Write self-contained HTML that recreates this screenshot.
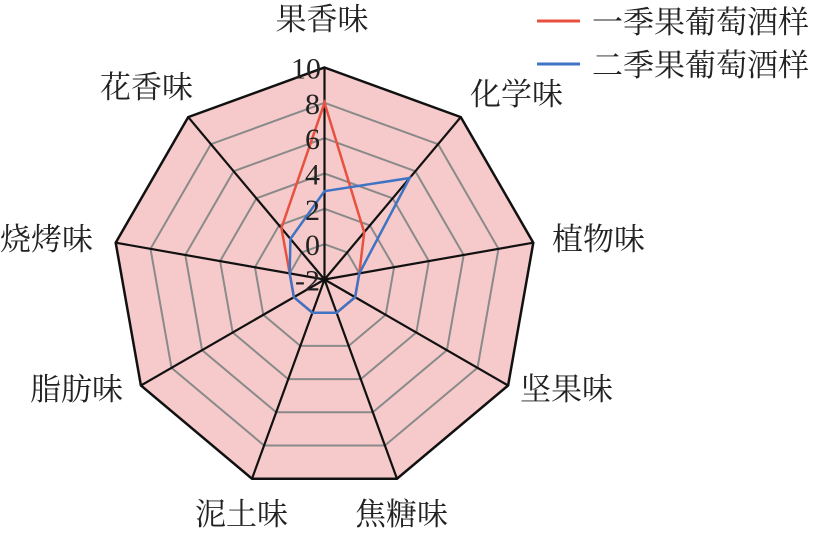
<!DOCTYPE html>
<html><head><meta charset="utf-8"><style>
html,body{margin:0;padding:0;background:#fff;}
svg{display:block;}
text{font-family:"Liberation Serif","Noto Serif CJK SC",serif;fill:#222;}
</style></head><body>
<svg width="829" height="533" viewBox="0 0 829 533" xmlns="http://www.w3.org/2000/svg">
<g transform="translate(324.5,279.5)">
<polygon points="0,-212 136.3,-162.4 208.8,-36.8 183.6,106 72.5,199.2 -72.5,199.2 -183.6,106 -208.8,-36.8 -136.3,-162.4" fill="#f6caca"/>
<g fill="none" stroke="#8a8a8a" stroke-width="2">
<polygon points="0,-35.3 22.7,-27.1 34.8,-6.1 30.6,17.7 12.1,33.2 -12.1,33.2 -30.6,17.7 -34.8,-6.1 -22.7,-27.1"/>
<polygon points="0,-70.7 45.4,-54.1 69.6,-12.3 61.2,35.3 24.2,66.4 -24.2,66.4 -61.2,35.3 -69.6,-12.3 -45.4,-54.1"/>
<polygon points="0,-106 68.1,-81.2 104.4,-18.4 91.8,53 36.3,99.6 -36.3,99.6 -91.8,53 -104.4,-18.4 -68.1,-81.2"/>
<polygon points="0,-141.3 90.8,-108.3 139.2,-24.5 122.4,70.7 48.3,132.8 -48.3,132.8 -122.4,70.7 -139.2,-24.5 -90.8,-108.3"/>
<polygon points="0,-176.7 113.6,-135.3 174,-30.7 153,88.3 60.4,166 -60.4,166 -153,88.3 -174,-30.7 -113.6,-135.3"/>
</g>
<polygon points="0,-212 136.3,-162.4 208.8,-36.8 183.6,106 72.5,199.2 -72.5,199.2 -183.6,106 -208.8,-36.8 -136.3,-162.4" fill="none" stroke="#111" stroke-width="2.5"/>
<g stroke="#111" stroke-width="2.2">
<line x1="0" y1="0" x2="0" y2="-212"/>
<line x1="0" y1="0" x2="136.3" y2="-162.4"/>
<line x1="0" y1="0" x2="208.8" y2="-36.8"/>
<line x1="0" y1="0" x2="183.6" y2="106"/>
<line x1="0" y1="0" x2="72.5" y2="199.2"/>
<line x1="0" y1="0" x2="-72.5" y2="199.2"/>
<line x1="0" y1="0" x2="-183.6" y2="106"/>
<line x1="0" y1="0" x2="-208.8" y2="-36.8"/>
<line x1="0" y1="0" x2="-136.3" y2="-162.4"/>
</g>
<polygon points="0,-176.7 39.7,-47.3 34.8,-6.1 30.6,17.7 12.1,33.2 -12.1,33.2 -30.6,17.7 -34.8,-6.1 -43.1,-51.4" fill="none" stroke="#e8513f" stroke-width="2.5"/>
<polygon points="0,-88.3 85.2,-101.5 34.8,-6.1 30.6,17.7 12.1,33.2 -12.1,33.2 -30.6,17.7 -34.8,-6.1 -34.1,-40.6" fill="none" stroke="#3f73c4" stroke-width="2.5"/>
</g>
<g font-size="30" text-anchor="end">
<text x="320" y="290.5">-2</text>
<text x="320" y="255.2">0</text>
<text x="320" y="219.8">2</text>
<text x="320" y="184.5">4</text>
<text x="320" y="149.2">6</text>
<text x="320" y="113.8">8</text>
<text x="321" y="78.5">10</text>
</g>
<g font-size="31">
<text x="322" y="30" text-anchor="middle">果香味</text>
<text x="470" y="105">化学味</text>
<text x="552" y="250">植物味</text>
<text x="520" y="400">坚果味</text>
<text x="355" y="525">焦糖味</text>
<text x="195" y="525">泥土味</text>
<text x="30" y="400">脂肪味</text>
<text x="0" y="250">烧烤味</text>
<text x="100" y="98">花香味</text>
<text x="592" y="33">一季果葡萄酒样</text>
<text x="592" y="76">二季果葡萄酒样</text>
</g>
<line x1="537" y1="21" x2="580" y2="21" stroke="#e8513f" stroke-width="3"/>
<line x1="537" y1="64" x2="580" y2="64" stroke="#3f73c4" stroke-width="3"/>
</svg>
</body></html>
